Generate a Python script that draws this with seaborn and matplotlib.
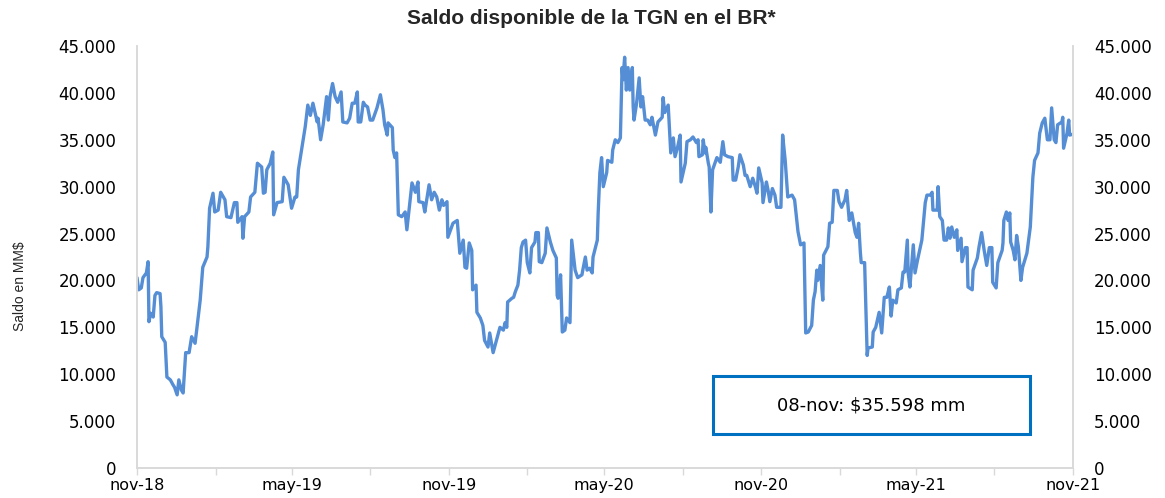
import matplotlib
matplotlib.use("Agg")
import matplotlib.pyplot as plt
from matplotlib import font_manager
from matplotlib.patches import Rectangle
from matplotlib.ticker import FuncFormatter, MultipleLocator
import seaborn as sns
import pandas as pd

# ---------------- data ----------------
start_date = "2018-11-08"
days_since_start = [
    0, 2, 5, 7, 11, 13, 14, 16, 19, 21, 23, 27, 28, 29, 33, 35, 39, 42, 44, 47, 49, 52, 54, 57, 61, 64, 68, 70, 74, 77,
    82, 83, 85, 89, 91, 95, 98, 103, 105, 110, 114, 117, 118, 123, 124, 126, 131, 133, 138, 141, 146, 148, 150, 152, 156,
    159, 160, 164, 170, 172, 177, 181, 185, 187, 189, 194, 197, 200, 203, 206, 211, 212, 215, 218, 222, 224, 226, 229,
    232, 235, 239, 241, 246, 249, 252, 255, 258, 259, 262, 265, 267, 270, 273, 276, 281, 285, 288, 290, 293, 294, 299,
    300, 302, 304, 306, 310, 314, 316, 322, 326, 329, 330, 335, 337, 342, 345, 348, 351, 354, 357, 359, 363, 364, 370,
    375, 378, 382, 384, 386, 389, 392, 393, 397, 398, 402, 405, 407, 411, 413, 417, 422, 425, 429, 431, 433, 434, 439,
    441, 443, 446, 448, 450, 452, 455, 457, 460, 462, 466, 467, 470, 471, 474, 478, 480, 484, 487, 491, 492, 493, 496,
    498, 501, 503, 507, 509, 513, 516, 521, 522, 525, 527, 530, 533, 534, 539, 540, 542, 544, 546, 550, 551, 556, 557,
    560, 563, 566, 568, 569, 571, 573, 575, 577, 580, 581, 582, 585, 588, 590, 592, 595, 598, 601, 603, 607, 610, 615,
    616, 618, 622, 625, 628, 630, 633, 636, 637, 642, 644, 648, 651, 655, 657, 658, 662, 663, 665, 666, 669, 670, 672,
    674, 679, 683, 686, 688, 692, 697, 698, 701, 704, 706, 710, 712, 714, 718, 721, 724, 726, 728, 732, 733, 737, 739,
    741, 744, 747, 749, 754, 756, 759, 762, 767, 770, 774, 777, 781, 783, 786, 790, 792, 794, 796, 797, 800, 803, 804,
    809, 811, 814, 816, 820, 822, 825, 829, 831, 834, 837, 841, 843, 845, 847, 848, 852, 855, 856, 861, 862, 865, 869,
    872, 875, 878, 881, 883, 885, 889, 891, 895, 897, 899, 902, 903, 905, 909, 911, 914, 919, 923, 925, 929, 931, 932,
    937, 938, 940, 943, 945, 948, 950, 952, 954, 957, 960, 961, 965, 966, 970, 972, 973, 978, 979, 984, 986, 989, 992,
    995, 998, 1001, 1002, 1006, 1008, 1013, 1014, 1015, 1018, 1020, 1022, 1023, 1026, 1028, 1030, 1032, 1035, 1037,
    1042, 1046, 1049, 1051, 1055, 1057, 1060, 1063, 1066, 1069, 1071, 1074, 1076, 1078, 1083, 1084, 1085, 1089, 1091,
    1092, 1096,
]
saldo_mm = [
    20300, 19000, 19200, 20300, 20800, 22000, 15600, 16500, 16100, 18400, 18700, 18600, 17200, 14000, 13400, 9700, 9400,
    8900, 8600, 7800, 9400, 8300, 8000, 12300, 12300, 14000, 13300, 14800, 17900, 21400,
    22500, 23600, 27700, 29300, 27300, 27500, 29400, 28600, 26800, 26700, 28300, 28300, 26200, 26800, 24500, 26800,
    27300, 28900, 29400, 32500, 32100, 29300, 29400, 31800, 32500,
    33700, 27000, 28300, 28400, 31000, 30200, 27700, 28900, 28900, 31800, 34700, 36400, 38700, 37600, 38900, 36900,
    37300, 35000, 36600, 39600, 37100, 39600, 41000,
    39600, 39000, 40100, 36900, 36800, 37300, 38900, 38900, 40100, 36900, 36900, 39000, 38700, 38500, 37100, 37100,
    38400, 39800, 38200, 36600, 35500, 36800, 36300,
    33900, 33100, 33600, 27000, 26800, 27300, 25400, 30400, 29400, 30500, 28400, 28300, 27300, 30200, 28600, 29400,
    28900, 27500, 28600, 28000, 28400, 24600, 26100,
    26400, 22900, 24300, 21400, 21300, 24000, 23200, 19000, 19500, 16600, 16000, 15200, 13600, 12900, 14400, 12300,
    14000, 15000, 14700, 15500, 15000, 17700, 18100,
    18200, 18800, 19500, 21100, 23500, 24100, 24300, 21900, 20800, 23500, 24100, 25100, 25100, 22000, 21900, 22900,
    25600, 24100, 23200, 22400, 18400, 18100, 20600,
    14500, 14700, 16000, 15500, 24300, 21100, 20300, 20600, 21100, 22500, 21100, 21300, 20800, 22500, 24300, 27200,
    31500, 33100, 30000, 31500, 32800, 32600, 33900,
    35000, 34700, 35200, 42700, 41400, 43800, 40300, 42700, 40300, 42700, 38500, 37100, 38900, 41600, 38500, 39600,
    37100, 37100, 36600, 37400, 35500, 36900, 37400,
    39500, 37900, 38700, 33600, 35200, 33200, 34200, 35500, 30500, 32500, 34800, 35000, 35300, 34700, 35000, 33200,
    33400, 35000, 33600, 34200, 32500, 32100, 27300,
    31800, 33100, 32600, 34800, 33400, 33200, 33100, 30700, 30700, 32100, 33400, 32300, 31200, 31200, 30000, 30900,
    30000, 29300, 32000, 30400, 28300, 30500, 29600,
    28400, 29800, 29100, 27800, 27800, 35500, 32800, 28900, 29100, 28600, 25200, 23800, 24000, 14400, 14500, 15200,
    17900, 18800, 21100, 20000, 21600, 17900, 22700,
    23600, 26100, 26200, 29600, 29600, 28400, 27800, 28600, 29600, 26400, 27200, 25100, 24600, 26100, 23000, 21900,
    21900, 12000, 12800, 12900, 14500, 15000, 16600,
    14400, 18200, 18200, 19300, 16200, 17900, 17600, 19000, 19200, 20900, 20900, 24300, 20800, 19300, 23800, 20800,
    22200, 24300, 28300, 29100, 29100, 29400, 27500,
    27500, 30000, 26800, 26400, 24300, 24300, 25600, 24500, 25700, 24600, 25400, 23200, 24500, 22000, 23500, 23500,
    19300, 19000, 21100, 22400, 23600, 25100, 23200,
    21600, 23500, 23500, 19800, 19200, 21900, 23200, 24000, 26400, 27300, 26400, 27200, 24100, 23200, 22200, 24800,
    23600, 20000, 21400,
    22900, 25700, 31000, 32800, 33600, 35700, 36800, 37300, 35000, 35000, 38400, 35000, 34700, 36600, 36900, 37400,
    34100, 35700, 37100,
    35500, 35598,
]
tick_labels = ["nov-18", "may-19", "nov-19", "may-20", "nov-20", "may-21", "nov-21"]
title_text = "Saldo disponible de la TGN en el BR*"
ylabel_text = "Saldo en MM$"
note_text = "08-nov: $35.598 mm"

# ---------------- style ----------------
sns.set_theme(style="white")
available = {f.name for f in font_manager.fontManager.ttflist}
narrow = "Liberation Sans Narrow" if "Liberation Sans Narrow" in available else "Liberation Sans"
plt.rcParams["font.family"] = ["DejaVu Sans"]

df = pd.DataFrame({
    "fecha": pd.to_datetime(start_date) + pd.to_timedelta(days_since_start, unit="D"),
    "saldo": saldo_mm,
})

fig = plt.figure(figsize=(11.65, 4.98), dpi=100)
ax = fig.add_axes([137 / 1165, 1 - 468 / 498, (1073 - 137) / 1165, (468 - 46) / 498])

sns.lineplot(data=df, x="fecha", y="saldo", ax=ax, color="#558ED5", linewidth=2.4, estimator=None)

x0 = df["fecha"].iloc[0]
x1 = df["fecha"].iloc[-1]
ax.set_xlim(x0, x1)
ax.set_ylim(0, 45000)
ax.yaxis.set_major_locator(MultipleLocator(5000))
fmt = FuncFormatter(lambda v, p: f"{int(round(v)):,}".replace(",", "."))
ax.yaxis.set_major_formatter(fmt)

qticks = pd.date_range(x0, x1, freq=pd.DateOffset(months=3))
ax.set_xticks(qticks)
labels = []
for i in range(len(qticks)):
    labels.append(tick_labels[i // 2] if i % 2 == 0 else "")
ax.set_xticklabels(labels)

ax.set_xlabel("")
ax.set_ylabel("")
ax.spines["top"].set_visible(False)
for s in ["left", "right", "bottom"]:
    ax.spines[s].set_color("#D9D9D9")
    ax.spines[s].set_linewidth(1.2)

ax.tick_params(axis="y", length=0, pad=15, labelsize=12, labelcolor="black")
ax.tick_params(axis="x", length=5, width=1, color="#D9D9D9", direction="out", pad=2,
               labelsize=11.5, labelcolor="black", bottom=True)

ax2 = ax.twinx()
ax2.set_ylim(0, 45000)
ax2.yaxis.set_major_locator(MultipleLocator(5000))
ax2.yaxis.set_major_formatter(fmt)
ax2.tick_params(axis="y", length=0, pad=15, labelsize=12, labelcolor="black")
ax2.spines["top"].set_visible(False)
for s in ["left", "right", "bottom"]:
    ax2.spines[s].set_color("#D9D9D9")
    ax2.spines[s].set_linewidth(1.2)
ax2.grid(False)
ax.grid(False)

fig.text(591 / 1165, 1 - 18 / 498, title_text, ha="center", va="center",
         fontsize=15, fontweight="bold", family=["Liberation Sans", "DejaVu Sans"])
fig.text(20 / 1165, 1 - 286 / 498, ylabel_text, rotation=90, ha="center", va="center",
         fontsize=10, family=[narrow, "DejaVu Sans"])

rect = Rectangle((0.615, 0.081), 0.339, 0.137, transform=ax.transAxes, fill=False,
                 edgecolor="#0070C0", linewidth=2.2, zorder=5)
ax.add_patch(rect)
ax.text(0.784, 0.149, note_text, transform=ax.transAxes, ha="center", va="center",
        fontsize=13, family=["DejaVu Sans"], color="black", zorder=6)

fig.savefig("out.png", dpi=100)
